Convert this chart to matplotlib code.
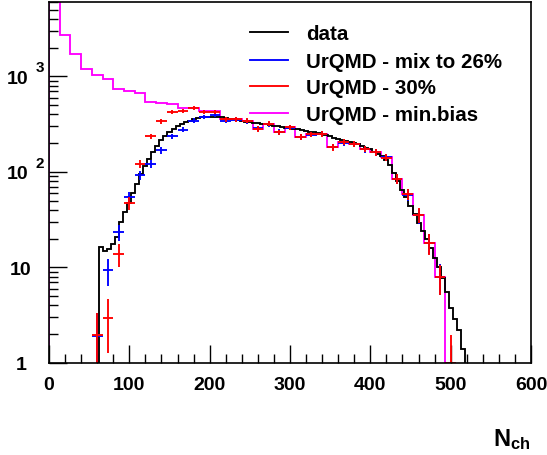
import numpy as np
import matplotlib
matplotlib.use("Agg")
import matplotlib.pyplot as plt
from matplotlib.lines import Line2D
from matplotlib.ticker import MultipleLocator, LogLocator, NullFormatter
from matplotlib.transforms import blended_transform_factory

matplotlib.rcParams.update({
    "font.family": ["Liberation Sans", "DejaVu Sans"],
    "font.weight": "bold",
    "font.size": 14,
    "mathtext.fontset": "custom",
    "mathtext.rm": "Liberation Sans:bold",
    "mathtext.bf": "Liberation Sans:bold",
    "mathtext.it": "Liberation Sans:bold",
    "mathtext.default": "bf",
})

# ---- data ----
# measured multiplicity, fine bins of 5 starting at 62.5
data_start = 62.5
data_width = 5.0
data_counts = [16.5, 15, 15.5, 17.5, 21, 30, 38, 47, 60, 75,
               95, 115, 135, 160, 185, 215, 240, 260, 280, 300,
               318, 332, 345, 358, 367, 373, 378, 380, 380, 378,
               375, 370, 362, 355, 348, 342, 336, 331, 326, 322,
               318, 314, 309, 304, 299, 294, 290, 286, 282, 278,
               273, 268, 264, 259, 254, 248, 242, 235, 228, 222,
               216, 210, 205, 200, 194, 188, 180, 172, 163, 155,
               145, 132, 118, 97, 80, 65, 54, 44, 36, 29,
               24, 20, 16, 12.5, 10, 7.8, 5.5, 3.8, 2.9, 2.2,
               1.4]

# UrQMD histograms, 45 bins over 0..600
sim_width = 600.0 / 45
minbias = [20000, 2720, 1720, 1200, 1040, 940, 740, 700, 672, 537,
           524, 515, 468, 468, 432, 432, 360, 359, 344, 282,
           318, 260, 294, 231, 250, 250, 181, 205, 196, 174,
           161, 143, 84.5, 58.5, 35.5, 17.9, 7.9]

# 30% and mix, first filled bin index 4
sim_first_bin = 4
cent30 = [1.96, 2.96, 13.7, 47, 121, 236, 340, 422, 435, 465,
          422, 422, 355, 355, 344, 282, 318, 260, 294, 231,
          248, 250, 181, 205, 196, 174, 161, 141, 84.5, 58.9,
          35.5, 17.9, 7.9, 1.0]
cent30_err = [1.4, 1.7, 3.7, 7, 11, 16, 19, 21, 22, 23,
              21, 21, 20, 20, 19, 18, 19, 17, 18, 16,
              16, 16, 14, 15, 15, 14, 13, 12, 9.5, 8,
              6.2, 4.3, 2.8, 0.95]
mix26 = [1.9, 9.4, 23.4, 54, 93, 121, 168, 235, 277, 345,
         374, 398, 345, 352, 340, 285, 315, 262, 290, 233,
         246, 252, 183, 203, 198, 172, 160, 142, 85, 58,
         35, 18, 8]
mix26_err = [1.4, 3.0, 4.5, 7.5, 10, 11.5, 13.5, 16, 17.5, 19.5,
             20, 21, 19.5, 20, 19, 18, 19, 17, 18, 16,
             16, 16, 14, 15, 15, 14, 13, 12, 9.5, 8,
             6.2, 4.3, 2.8]

labels = ["data", "UrQMD - mix to 26%", "UrQMD - 30%", "UrQMD - min.bias"]
colors = ["black", "#0000ff", "#ff0000", "#ff00ff"]

# ---- figure ----
W, H = 547, 456
fig = plt.figure(figsize=(W / 100, H / 100), dpi=100)
ax = fig.add_axes([49 / W, (H - 364) / H, (531 - 49) / W, (364 - 3) / H])

lw = 1.35
mb_edges = sim_width * np.arange(len(minbias) + 1)
ax.stairs(minbias, mb_edges, baseline=1e-3, color=colors[3], lw=lw)

d_edges = data_start + data_width * np.arange(len(data_counts) + 1)
ax.stairs(data_counts, d_edges, baseline=1e-3, color=colors[0], lw=lw)

x_mix = sim_width * (np.arange(len(mix26)) + sim_first_bin + 0.5)
ax.errorbar(x_mix, mix26, xerr=sim_width / 2, yerr=mix26_err, fmt="none",
            ecolor=colors[1], elinewidth=lw, capsize=0)
x_30 = sim_width * (np.arange(len(cent30)) + sim_first_bin + 0.5)
ax.errorbar(x_30, cent30, xerr=sim_width / 2, yerr=cent30_err, fmt="none",
            ecolor=colors[2], elinewidth=lw, capsize=0)

ax.set_yscale("log")
ax.set_xlim(0, 600)
ax.set_ylim(1, 6000)

ax.xaxis.set_major_locator(MultipleLocator(100))
ax.xaxis.set_minor_locator(MultipleLocator(20))
ax.yaxis.set_major_locator(LogLocator(base=10, numticks=10))
ax.yaxis.set_minor_locator(LogLocator(base=10, subs=np.arange(2, 10), numticks=20))
ax.yaxis.set_major_formatter(NullFormatter())
ax.yaxis.set_minor_formatter(NullFormatter())
ax.tick_params(which="major", direction="in", length=13, width=1.0,
               top=False, right=False, pad=9.5, labelsize=14)
ax.tick_params(which="minor", direction="in", length=6.5, width=1.0,
               top=False, right=False)
for s in ax.spines.values():
    s.set_linewidth(1.2)

# ROOT-like log labels
ytr = blended_transform_factory(ax.transAxes, ax.transData)
def ax_x(px):
    return (px - 49) / (531 - 49)
ax.text(ax_x(27), 1, "1", transform=ytr, ha="right", va="center_baseline", fontsize=14)
ax.text(ax_x(31.5), 10, "10", transform=ytr, ha="right", va="center_baseline", fontsize=14)
for val, ex in [(100, "2"), (1000, "3")]:
    ax.text(ax_x(7), val, "10", transform=ytr, ha="left", va="center_baseline", fontsize=14)
    ax.text(ax_x(36), val * 1.13, ex, transform=ytr, ha="left", va="baseline", fontsize=11)

# axis title
fig.text(530 / W, 1 - 446 / H, r"$N_{ch}$", ha="right", va="baseline", fontsize=17)

# legend
row_y = [32.5, 61, 87, 113.5]
for lab, c, yy in zip(labels, colors, row_y):
    fig.add_artist(Line2D([250 / W, 288 / W], [1 - yy / H, 1 - yy / H], color=c, lw=lw))
    fig.text(306.5 / W, 1 - (yy + 7.5) / H, lab, ha="left", va="baseline", fontsize=14.8)

fig.savefig("out.png", dpi=100)
